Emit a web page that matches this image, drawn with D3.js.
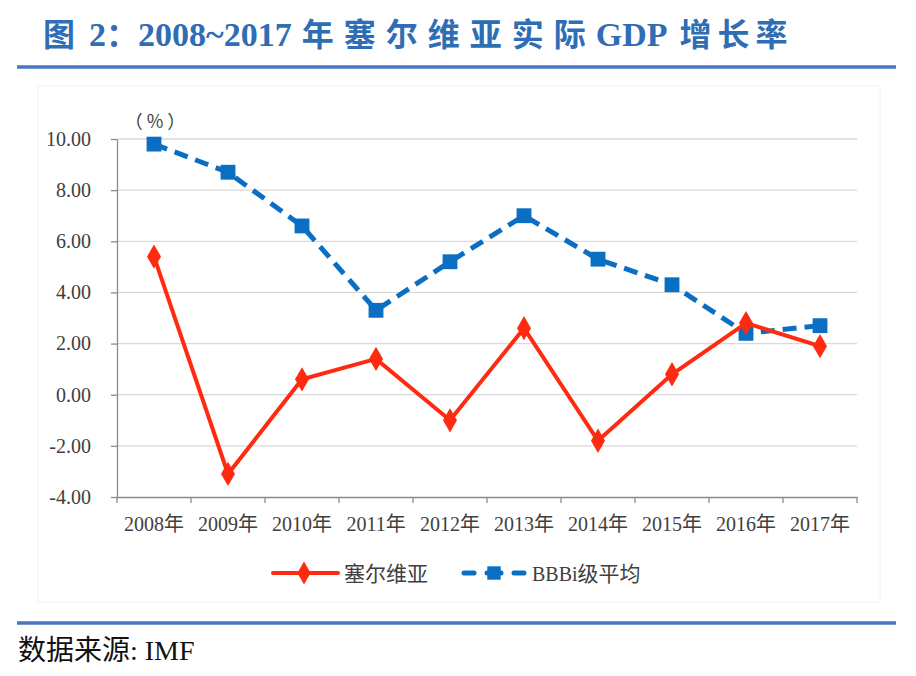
<!DOCTYPE html>
<html><head><meta charset="utf-8">
<script src="https://cdn.jsdelivr.net/npm/d3@7/dist/d3.min.js"></script>
<style>body{margin:0;background:#fff;}svg{display:block;}</style>
</head><body>
<script>
const categories = ["2008年","2009年","2010年","2011年","2012年","2013年","2014年","2015年","2016年","2017年"];
const serbia = [5.4, -3.1, 0.6, 1.4, -1.0, 2.6, -1.8, 0.8, 2.8, 1.9];
const bbbAvg = [9.8, 8.7, 6.6, 3.3, 5.2, 7.0, 5.3, 4.3, 2.4, 2.7];
const yTicks = [-4, -2, 0, 2, 4, 6, 8, 10];
const seriesNames = ["塞尔维亚", "BBBi级平均"];

(function () {
const W = 916, H = 676;
const svg = d3.select("body").append("svg").attr("width", W).attr("height", H);
const serif = "'Liberation Serif','Times New Roman','Noto Sans CJK SC',serif";
const cjk = "'Noto Sans CJK SC',sans-serif";
const txt = "#404040";

// title
const title = svg.append("text").attr("x", 43).attr("y", 46)
  .attr("font-weight", "bold").attr("font-size", 32).attr("fill", "#2f6db5");
const parts = [
  {t: "图", dx: 0, ls: 0, f: cjk, s: 32}, {t: "2", dx: 14, ls: 0, f: serif, s: 34},
  {t: "：", dx: 0, ls: 0, f: cjk, s: 32}, {t: "2008~2017", dx: 0, ls: 0, f: serif, s: 34},
  {t: "年塞尔维亚实际", dx: 10, ls: 10, f: cjk, s: 32},
  {t: "GDP", dx: 0, ls: 0, f: serif, s: 34}, {t: "增长率", dx: 12, ls: 6, f: cjk, s: 32}
];
parts.forEach(p => title.append("tspan").attr("font-family", p.f).attr("font-size", p.s)
  .attr("dx", p.dx).attr("letter-spacing", p.ls).text(p.t));
svg.append("line").attr("x1", 17).attr("x2", 896).attr("y1", 67).attr("y2", 67)
  .attr("stroke", "#4a74c4").attr("stroke-width", 3.5);

// chart frame (faint)
svg.append("rect").attr("x", 38).attr("y", 86).attr("width", 842).attr("height", 516)
  .attr("fill", "none").attr("stroke", "#f2f2f2").attr("stroke-width", 1);

const pL = 117, pR = 857, pT = 139, pB = 497;
const x = d3.scaleBand().domain(categories).range([pL, pR]);
const y = d3.scaleLinear().domain([-4, 10]).range([pB, pT]);

// gridlines
svg.append("g").selectAll("line").data(yTicks.filter(d => d !== -4)).join("line")
  .attr("x1", pL).attr("x2", pR).attr("y1", d => y(d)).attr("y2", d => y(d))
  .attr("stroke", "#d9d9d9").attr("stroke-width", 1.3);

// y axis
const fmt = d => d3.format(".2f")(d).replace("−", "-");
const yAxis = svg.append("g").attr("transform", `translate(${pL},0)`)
  .call(d3.axisLeft(y).tickValues(yTicks).tickSize(6).tickSizeOuter(0).tickPadding(20).tickFormat(fmt));
yAxis.select(".domain").attr("stroke", "#8c8c8c").attr("stroke-width", 1.3);
yAxis.selectAll(".tick line").attr("stroke", "#8c8c8c").attr("stroke-width", 1.3);
yAxis.selectAll("text").attr("font-family", serif).attr("font-size", 20).attr("fill", txt);

// x axis
const xAxis = svg.append("g").attr("transform", `translate(0,${pB})`)
  .call(d3.axisBottom(x).tickSize(0).tickPadding(20));
xAxis.select(".domain").attr("stroke", "#8c8c8c").attr("stroke-width", 1.3);
xAxis.selectAll("text").attr("font-family", serif).attr("font-size", 20).attr("fill", txt);
svg.append("g").selectAll("line").data(categories.concat([null])).join("line")
  .attr("x1", (d, i) => pL + i * x.bandwidth()).attr("x2", (d, i) => pL + i * x.bandwidth())
  .attr("y1", pB).attr("y2", pB + 6)
  .attr("stroke", "#8c8c8c").attr("stroke-width", 1.3);

// unit label
svg.append("text").attr("x", 157).attr("y", 128).attr("text-anchor", "middle").attr("font-family", cjk)
  .attr("font-size", 18).attr("letter-spacing", 4).attr("fill", txt).text("（%）");

const cx = (d, i) => x(categories[i]) + x.bandwidth() / 2;
const red = "#ff2a10", blue = "#0a6fc2";

// blue series
const lineGen = d3.line().x((d, i) => cx(d, i)).y(d => y(d));
svg.append("path").datum(bbbAvg).attr("d", lineGen).attr("fill", "none")
  .attr("stroke", blue).attr("stroke-width", 5).attr("stroke-dasharray", "14,8");
svg.append("g").selectAll("path").data(bbbAvg).join("path")
  .attr("d", d3.symbol().type(d3.symbolSquare).size(220))
  .attr("transform", (d, i) => `translate(${cx(d, i)},${y(d)})`).attr("fill", blue);

// red series
svg.append("path").datum(serbia).attr("d", lineGen).attr("fill", "none")
  .attr("stroke", red).attr("stroke-width", 4);
svg.append("g").selectAll("path").data(serbia).join("path")
  .attr("d", d3.symbol().type(d3.symbolDiamond).size(170))
  .attr("transform", (d, i) => `translate(${cx(d, i)},${y(d)})`).attr("fill", red);

// legend
const ly = 573;
svg.append("line").attr("x1", 273).attr("x2", 338).attr("y1", ly).attr("y2", ly)
  .attr("stroke", red).attr("stroke-width", 4).attr("stroke-linecap", "round");
svg.append("path").attr("d", d3.symbol().type(d3.symbolDiamond).size(150))
  .attr("transform", `translate(304,${ly})`).attr("fill", red);
svg.append("text").attr("x", 344).attr("y", ly + 8).attr("font-family", cjk)
  .attr("font-size", 21).attr("fill", txt).text(seriesNames[0]);

svg.append("line").attr("x1", 464).attr("x2", 524).attr("y1", ly).attr("y2", ly)
  .attr("stroke", blue).attr("stroke-width", 5).attr("stroke-linecap", "round")
  .attr("stroke-dasharray", "10,13,14,13,10");
svg.append("path").attr("d", d3.symbol().type(d3.symbolSquare).size(180))
  .attr("transform", `translate(494,${ly})`).attr("fill", blue);
const lt = svg.append("text").attr("x", 532).attr("y", ly + 8)
  .attr("font-size", 21).attr("fill", txt);
lt.append("tspan").attr("font-family", serif).attr("font-size", 20).text("BBBi");
lt.append("tspan").attr("font-family", cjk).text("级平均");

// bottom rule and source
svg.append("line").attr("x1", 17).attr("x2", 896).attr("y1", 623).attr("y2", 623)
  .attr("stroke", "#4a74c4").attr("stroke-width", 3.5);
const src = svg.append("text").attr("x", 18).attr("y", 660).attr("font-size", 28).attr("fill", "#111");
src.append("tspan").attr("font-family", cjk).text("数据来源");
src.append("tspan").attr("font-family", serif).text(": IMF");
})();
</script>
</body></html>
